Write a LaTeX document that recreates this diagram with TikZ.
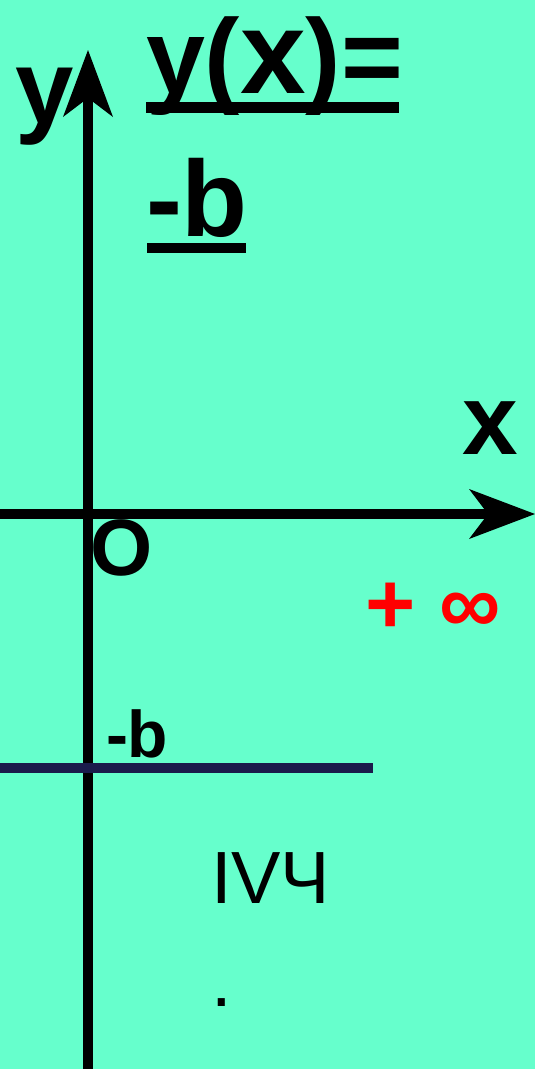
\documentclass[tikz,border=0pt]{standalone}
\usepackage{fontspec}
\setmainfont{Liberation Sans}
\usetikzlibrary{calc}
\definecolor{bgmint}{RGB}{102,255,204}
\definecolor{navyline}{RGB}{27,27,75}
\definecolor{infred}{RGB}{255,0,0}
\newcommand\setfs[1]{\fontsize{#1}{#1}\selectfont}
\begin{document}
\begin{tikzpicture}[x=1pt,y=-1pt,
  lbl/.style={inner sep=0pt,outer sep=0pt,anchor=base west,text=black},
  axisline/.style={line width=10pt,black},
  uline/.style={line width=10.5pt,black},
  head/.style={fill=black}]
\useasboundingbox (0,0) rectangle (535,1069);
\fill[bgmint] (0,0) rectangle (535,1069);
% axes
\coordinate (ytip) at (88,50);
\coordinate (ybot) at (88,1069);
\coordinate (xtip) at (535,514);
\coordinate (xleft) at (0,514);
\draw[axisline] (ybot) -- ($(ytip)+(0,48)$);
\fill[head] (ytip) -- ++(-25,67) -- ++(25,-19) -- ++(25,19) -- cycle;
\draw[axisline] (xleft) -- ($(xtip)+(-47,0)$);
\fill[head] (xtip) -- ++(-66,-25) -- ++(19,25) -- ++(-19,25) -- cycle;
% -b line
\coordinate (bl) at (0,768);
\coordinate (br) at (373,768);
\draw[line width=10pt,navyline] (bl) -- (br);
% title
\node[lbl,font=\bfseries] (title) at (146,93) {\setfs{106}y(\setfs{118}x\setfs{106})=};
\node[lbl,font=\bfseries] (title2) at (146,236) {\setfs{108}-b};
\draw[uline] (146,107.5) -- (399,107.5);
\draw[uline] (147,248) -- (246,248);
% axis labels
\node[lbl,font=\bfseries] (ylab) at (16,123) {\setfs{105}y};
\node[lbl,font=\bfseries] (xlab) at (462,454) {\setfs{100}x};
\node[lbl,font=\bfseries] (olab) at (90,575) {\setfs{80}O};
\node[lbl,font=\bfseries] (blab) at (106,757) {\setfs{66}-b};
\node[lbl,font=\bfseries,text=infred] (inf) at (365,633) {\setfs{86}+ ∞};
\node[lbl] (quad) at (211,903) {\setfs{74}IVЧ};
\node[lbl] (dot) at (211,1006) {\setfs{74}.};
\end{tikzpicture}
\end{document}
